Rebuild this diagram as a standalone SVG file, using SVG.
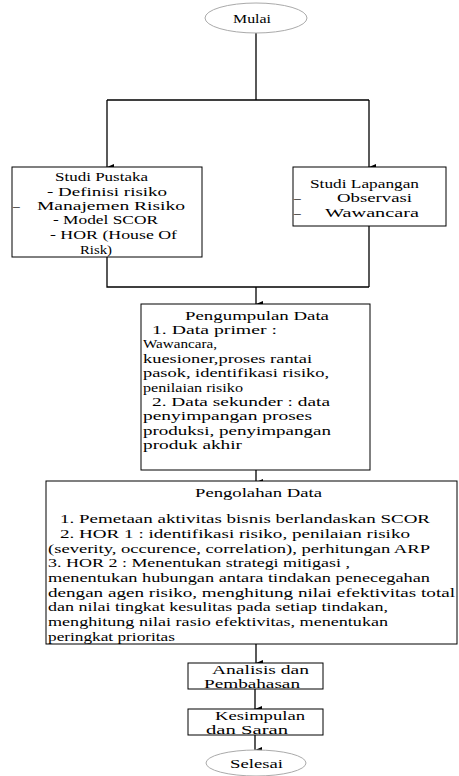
<svg xmlns="http://www.w3.org/2000/svg" width="459" height="776" viewBox="0 0 459 776">
<style>
.t{font-family:'Liberation Serif','Times New Roman',serif;font-size:13.5px;fill:#000}
.box{fill:#fff;stroke:#000;stroke-width:1}
.ell{fill:#fff;stroke:#aaa;stroke-width:1}
.c{fill:none;stroke:#000;stroke-width:1.3}
</style>
<defs>
<marker id="ah" markerWidth="6" markerHeight="7" refX="3" refY="7" orient="auto-start-reverse" markerUnits="userSpaceOnUse" viewBox="0 0 6 7">
<path d="M0,0 L6,0 L3,7 Z" fill="#000"/>
</marker>
</defs>
<rect width="459" height="776" fill="#fff"/>
<g id="connectors">
<path class="c" d="M256,33 V100 M107,100 H369"/>
<path class="c" d="M107,100 V167" marker-end="url(#ah)"/>
<path class="c" d="M369,100 V167" marker-end="url(#ah)"/>
<path class="c" d="M107,257 V287 H369 M369,226 V287"/>
<path class="c" d="M256,287 V304" marker-end="url(#ah)"/>
<path class="c" d="M256,470 V482" marker-end="url(#ah)"/>
<path class="c" d="M256,644 V663" marker-end="url(#ah)"/>
<path class="c" d="M255,683 V709" marker-end="url(#ah)"/>
<path class="c" d="M255,729 V750" marker-end="url(#ah)"/>
</g>
<g id="mulai">
<ellipse class="ell" cx="256" cy="18" rx="51" ry="15"/>
<text class="t" x="233" y="23" textLength="38" lengthAdjust="spacingAndGlyphs">Mulai</text>
</g>
<g id="studi-pustaka">
<rect class="box" x="12" y="167" width="190" height="90"/>
<text class="t" x="55" y="181" textLength="93" lengthAdjust="spacingAndGlyphs">Studi Pustaka</text>
<text class="t" x="47" y="196" textLength="120" lengthAdjust="spacingAndGlyphs">- Definisi risiko</text>
<text class="t" x="13" y="210">–</text>
<text class="t" x="37" y="210" textLength="148" lengthAdjust="spacingAndGlyphs">Manajemen Risiko</text>
<text class="t" x="53" y="224" textLength="105" lengthAdjust="spacingAndGlyphs">- Model SCOR</text>
<text class="t" x="50" y="239" textLength="127" lengthAdjust="spacingAndGlyphs">- HOR (House Of</text>
<text class="t" x="80" y="254" textLength="32" lengthAdjust="spacingAndGlyphs">Risk)</text>
</g>
<g id="studi-lapangan">
<rect class="box" x="293" y="167" width="153" height="59"/>
<text class="t" x="310" y="188" textLength="109" lengthAdjust="spacingAndGlyphs">Studi Lapangan</text>
<text class="t" x="294" y="202">–</text>
<text class="t" x="337" y="202" textLength="75" lengthAdjust="spacingAndGlyphs">Observasi</text>
<text class="t" x="294" y="217">–</text>
<text class="t" x="325" y="217" textLength="94" lengthAdjust="spacingAndGlyphs">Wawancara</text>
</g>
<g id="pengumpulan-data">
<rect class="box" x="141" y="304" width="229" height="166"/>
<text class="t" x="185" y="320" textLength="144" lengthAdjust="spacingAndGlyphs">Pengumpulan Data</text>
<text class="t" x="152" y="334" textLength="125" lengthAdjust="spacingAndGlyphs">1. Data primer :</text>
<text class="t" x="143" y="348" textLength="74" lengthAdjust="spacingAndGlyphs">Wawancara,</text>
<text class="t" x="143" y="363" textLength="169" lengthAdjust="spacingAndGlyphs">kuesioner,proses rantai</text>
<text class="t" x="143" y="377" textLength="186" lengthAdjust="spacingAndGlyphs">pasok, identifikasi risiko,</text>
<text class="t" x="143" y="392" textLength="100" lengthAdjust="spacingAndGlyphs">penilaian risiko</text>
<text class="t" x="152" y="406" textLength="178" lengthAdjust="spacingAndGlyphs">2. Data sekunder : data</text>
<text class="t" x="143" y="420" textLength="169" lengthAdjust="spacingAndGlyphs">penyimpangan proses</text>
<text class="t" x="143" y="435" textLength="188" lengthAdjust="spacingAndGlyphs">produksi, penyimpangan</text>
<text class="t" x="143" y="449" textLength="99" lengthAdjust="spacingAndGlyphs">produk akhir</text>
</g>
<g id="pengolahan-data">
<rect class="box" x="46" y="481" width="411" height="163"/>
<text class="t" x="195" y="497" textLength="127" lengthAdjust="spacingAndGlyphs">Pengolahan Data</text>
<text class="t" x="60" y="523" textLength="370" lengthAdjust="spacingAndGlyphs">1. Pemetaan aktivitas bisnis berlandaskan SCOR</text>
<text class="t" x="60" y="538" textLength="350" lengthAdjust="spacingAndGlyphs">2. HOR 1 : identifikasi risiko, penilaian risiko</text>
<text class="t" x="48" y="553" textLength="382" lengthAdjust="spacingAndGlyphs">(severity, occurence, correlation), perhitungan ARP</text>
<text class="t" x="48" y="567" textLength="302" lengthAdjust="spacingAndGlyphs">3. HOR 2 : Menentukan strategi mitigasi ,</text>
<text class="t" x="48" y="582" textLength="382" lengthAdjust="spacingAndGlyphs">menentukan hubungan antara tindakan penecegahan</text>
<text class="t" x="48" y="597" textLength="407" lengthAdjust="spacingAndGlyphs">dengan agen risiko, menghitung nilai efektivitas total</text>
<text class="t" x="48" y="611" textLength="340" lengthAdjust="spacingAndGlyphs">dan nilai tingkat kesulitas pada setiap tindakan,</text>
<text class="t" x="48" y="626" textLength="340" lengthAdjust="spacingAndGlyphs">menghitung nilai rasio efektivitas, menentukan</text>
<text class="t" x="48" y="641" textLength="127" lengthAdjust="spacingAndGlyphs">peringkat prioritas</text>
</g>
<g id="analisis">
<rect class="box" x="188" y="663" width="135" height="26"/>
<text class="t" x="212" y="674" textLength="97" lengthAdjust="spacingAndGlyphs">Analisis  dan</text>
<text class="t" x="204" y="688" textLength="96" lengthAdjust="spacingAndGlyphs">Pembahasan</text>
</g>
<g id="kesimpulan">
<rect class="box" x="188" y="709" width="135" height="26"/>
<text class="t" x="215" y="720" textLength="90" lengthAdjust="spacingAndGlyphs">Kesimpulan</text>
<text class="t" x="206" y="734" textLength="82" lengthAdjust="spacingAndGlyphs">dan Saran</text>
</g>
<g id="selesai">
<ellipse class="ell" cx="256" cy="763" rx="50" ry="13"/>
<text class="t" x="230" y="768" textLength="53" lengthAdjust="spacingAndGlyphs">Selesai</text>
</g>
</svg>
